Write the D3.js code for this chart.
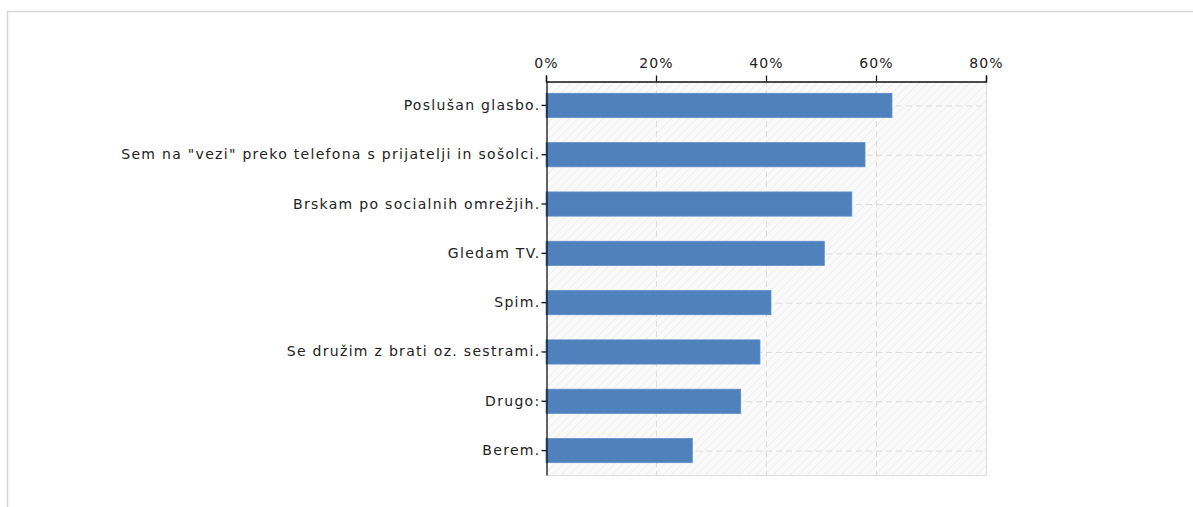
<!DOCTYPE html>
<html>
<head>
<meta charset="utf-8">
<script src="https://cdn.jsdelivr.net/npm/d3@7"></script>
<style>
  body { margin: 0; background: #fff; }
  svg { display: block; }
</style>
</head>
<body>
<div id="chart"></div>
<script>
var categories = [
  "Poslušan glasbo.",
  'Sem na "vezi" preko telefona s prijatelji in sošolci.',
  "Brskam po socialnih omrežjih.",
  "Gledam TV.",
  "Spim.",
  "Se družim z brati oz. sestrami.",
  "Drugo:",
  "Berem."
];
var values = [62.9, 58.0, 55.6, 50.6, 40.9, 38.9, 35.4, 26.6];
var xTicks = [0, 20, 40, 60, 80];

var width = 1193, height = 507;
var margin = { top: 81, left: 546, right: 207, bottom: 32 };
var font = "Verdana, DejaVu Sans, sans-serif";

var svg = d3.select("#chart").append("svg")
  .attr("width", width)
  .attr("height", height);

// outer frame (only top and left edges visible)
svg.append("path")
  .attr("d", "M7.5," + height + "V11.5H" + width)
  .attr("fill", "none")
  .attr("stroke", "#d6d6d6")
  .attr("stroke-width", 1.5);

var xScale = d3.scaleLinear()
  .domain([0, 80])
  .range([margin.left, width - margin.right]);

var yScale = d3.scaleBand()
  .domain(categories)
  .range([margin.top, height - margin.bottom])
  .paddingInner(0.51)
  .paddingOuter(0.25);

// hatched background
var defs = svg.append("defs");
var pat = defs.append("pattern")
  .attr("id", "hatch")
  .attr("patternUnits", "userSpaceOnUse")
  .attr("width", 6)
  .attr("height", 6)
  .attr("patternTransform", "rotate(45)");
pat.append("rect").attr("width", 6).attr("height", 6).attr("fill", "#fafafa");
pat.append("line")
  .attr("x1", 0).attr("y1", 0).attr("x2", 0).attr("y2", 6)
  .attr("stroke", "#ececec").attr("stroke-width", 1.5);

var x0 = xScale(0), x1 = xScale(80);
var y0 = margin.top, y1 = height - margin.bottom;

svg.append("rect")
  .attr("x", x0).attr("y", y0)
  .attr("width", x1 - x0).attr("height", y1 - y0)
  .attr("fill", "url(#hatch)");

// grid lines
var grid = svg.append("g")
  .attr("stroke", "#dcdcdc")
  .attr("stroke-dasharray", "6,4")
  .attr("fill", "none");

grid.selectAll("line.v")
  .data(xTicks.slice(1, -1))
  .join("line")
  .attr("class", "v")
  .attr("x1", (d) => xScale(d) + 0.5).attr("x2", (d) => xScale(d) + 0.5)
  .attr("y1", y0).attr("y2", y1);

grid.selectAll("line.h")
  .data(categories)
  .join("line")
  .attr("class", "h")
  .attr("x1", x0).attr("x2", x1)
  .attr("y1", (d) => yScale(d) + yScale.bandwidth() / 2 + 0.5)
  .attr("y2", (d) => yScale(d) + yScale.bandwidth() / 2 + 0.5);

// right and bottom edges
svg.append("path")
  .attr("d", "M" + (x1 + 0.5) + "," + y0 + "V" + (y1 + 0.5) + "H" + x0)
  .attr("fill", "none")
  .attr("stroke", "#dcdcdc");

// bars
svg.append("g")
  .selectAll("rect")
  .data(values)
  .join("rect")
  .attr("x", x0)
  .attr("y", (d, i) => yScale(categories[i]))
  .attr("width", (d) => xScale(d) - x0)
  .attr("height", yScale.bandwidth())
  .attr("fill", "#4f81bd")
  .attr("stroke", "#5b8cc6")
  .attr("stroke-width", 0.8);

// top axis
svg.append("g")
  .attr("transform", "translate(0," + (y0 + 0.5) + ")")
  .call(d3.axisTop(xScale).tickValues(xTicks).tickFormat((d) => d + "%").tickSize(6).tickSizeOuter(6).tickPadding(8))
  .call((g) => g.select(".domain").attr("stroke", "#111").attr("stroke-width", 1.3))
  .call((g) => g.selectAll(".tick line").attr("stroke", "#111").attr("stroke-width", 1.3))
  .call((g) => g.selectAll(".tick text")
    .attr("font-family", font)
    .attr("font-size", 14)
    .attr("letter-spacing", 1.2)
    .attr("fill", "#222"));

// left axis
svg.append("g")
  .attr("transform", "translate(" + (x0 + 0.5) + ",0)")
  .call(d3.axisLeft(yScale).tickSize(5).tickSizeOuter(0).tickPadding(1))
  .call((g) => g.select(".domain").attr("stroke", "#111").attr("stroke-width", 1.3))
  .call((g) => g.selectAll(".tick line").attr("stroke", "#111").attr("stroke-width", 1.3))
  .call((g) => g.selectAll(".tick text")
    .attr("font-family", font)
    .attr("font-size", 14)
    .attr("letter-spacing", 1.3)
    .attr("fill", "#222"));
</script>
</body>
</html>
